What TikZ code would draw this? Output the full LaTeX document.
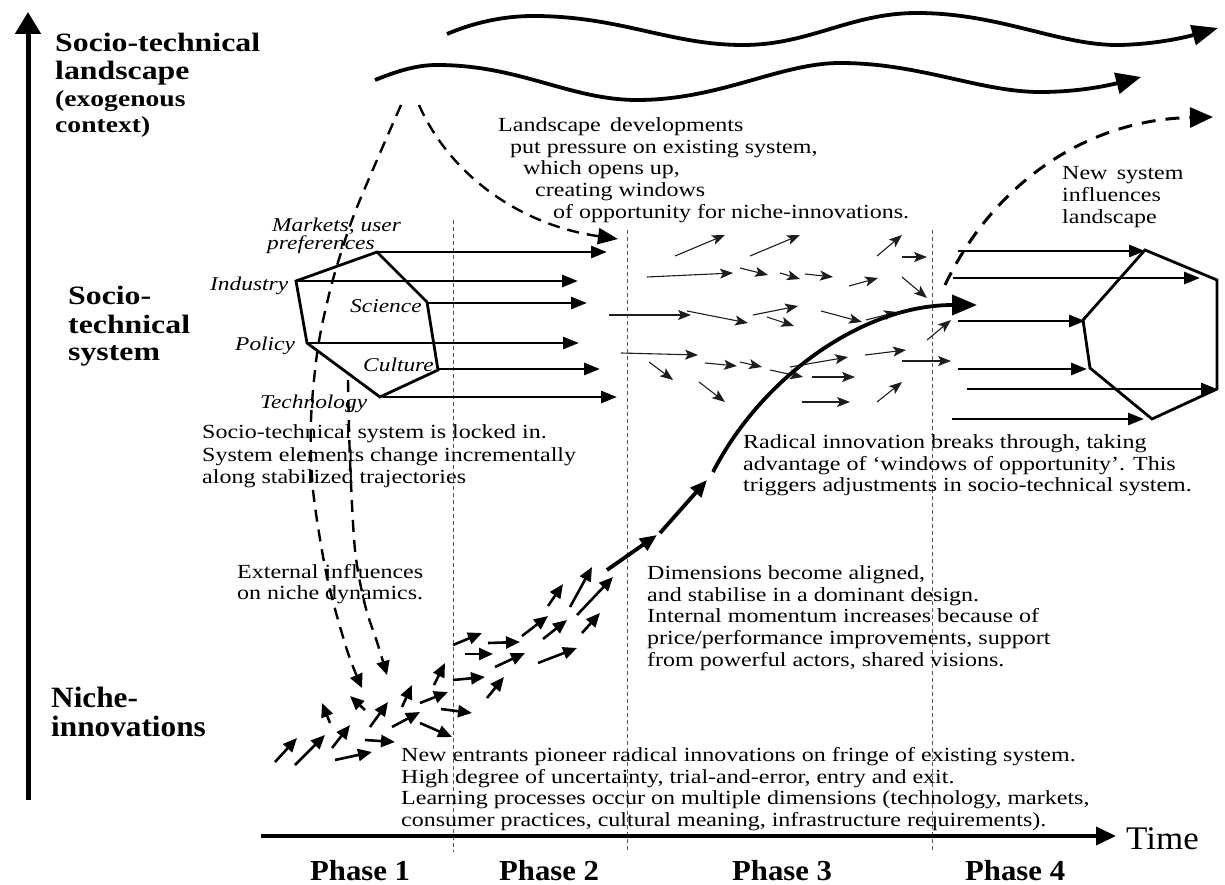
\documentclass[tikz,border=0pt]{standalone}
\usepackage{fontspec}
\setmainfont{Liberation Serif}
\newfontfamily\fw[FakeStretch=1.2]{Liberation Serif}
\newfontfamily\fn[FakeStretch=1.06]{Liberation Serif}
\usetikzlibrary{arrows.meta}
\definecolor{ink}{HTML}{1A1E22}
\definecolor{divgray}{HTML}{555555}
\tikzset{
  body/.style={anchor=base west, inner sep=0pt, font=\fw\fontsize{20}{22}\selectfont},
  lab/.style={anchor=base west, inner sep=0pt, font=\fw\itshape\fontsize{19.5}{22}\selectfont},
  bigl/.style={anchor=base west, inner sep=0pt, font=\fw\bfseries\fontsize{26.5}{28}\selectfont},
  midl/.style={anchor=base west, inner sep=0pt, font=\fw\bfseries\fontsize{23}{26}\selectfont},
  nichel/.style={anchor=base west, inner sep=0pt, font=\fn\bfseries\fontsize{29.5}{30}\selectfont},
  phasel/.style={anchor=base west, inner sep=0pt, text depth=0pt, font=\fn\bfseries\fontsize{29}{30}\selectfont},
  sysarr/.style={line width=2.8pt, -{Triangle[length=16pt,width=12pt]}},
  thinarr/.style={ink, line width=1.1pt, -{Stealth[length=13pt,width=10pt,inset=3pt]}},
  nicarr/.style={line width=2.6pt, -{Triangle[length=14pt,width=12pt]}},
  dashA/.style={line width=2.4pt, dash pattern=on 12pt off 8pt},
  divline/.style={divgray, line width=0.8pt, dash pattern=on 4pt off 3pt},
  wave/.style={line width=3.8pt},
}
\begin{document}
\begin{tikzpicture}[x=1pt,y=-1pt]
\useasboundingbox (0,0) rectangle (1225,885);

% phase dividers
\draw[divline] (453,220) -- (453,852);
\draw[divline] (627,230) -- (627,852);
\draw[divline] (932,230) -- (932,852);

% axes
\draw[line width=5pt,-{Triangle[length=22pt,width=25pt]}] (28,800) -- (28,12);
\node[anchor=base west, inner sep=0pt, font=\fn\fontsize{33}{34}\selectfont] (time) at (1126,849) {Time};
\draw[line width=3.8pt,-{Triangle[length=20pt,width=18pt]}] (261,836) -- (1116,836);

% left labels
\node[bigl] (l1) at (55,52) {Socio-technical};
\node[bigl] (l2) at (55,80) {landscape};
\node[midl] (l3) at (55,107) {(exogenous};
\node[midl] (l4) at (55,133) {context)};
\node[bigl] (s1) at (68,304) {Socio-};
\node[bigl] (s2) at (68,333) {technical};
\node[bigl] (s3) at (68,360) {system};
\node[nichel] (n1) at (51,707) {Niche-};
\node[nichel] (n2) at (51,736) {innovations};

% phase labels
\node[phasel] (p1) at (310,880) {Phase 1};
\node[phasel] (p2) at (499,880) {Phase 2};
\node[phasel] (p3) at (732,880) {Phase 3};
\node[phasel] (p4) at (965,880) {Phase 4};

% landscape waves
\draw[wave,-{Triangle[length=26pt,width=20pt]}] (447,34) .. controls (480,20) and (510,16) .. (533,16)
  .. controls (620,16) and (670,45) .. (743,45) .. controls (810,45) and (850,13) .. (917,13)
  .. controls (1000,13) and (1060,46) .. (1120,45) .. controls (1160,44) and (1190,36) .. (1218,28);
\draw[wave,-{Triangle[length=25pt,width=21pt]}] (375,80) .. controls (395,72) and (415,65) .. (437,65)
  .. controls (520,65) and (570,100) .. (637,100) .. controls (720,100) and (780,63) .. (840,63)
  .. controls (920,63) and (980,92) .. (1040,92) .. controls (1080,92) and (1110,85) .. (1141,77);

% dashed influences
\draw[dashA,-{Triangle[length=20pt,width=16pt]}] (419,105) .. controls (450,175) and (520,225) .. (618,239);
\draw[dashA,-{Triangle[length=14pt,width=13pt]}] plot[smooth] coordinates {(401,105) (377,160) (352,220) (332,283) (318,347) (311,420) (313,490) (327,577) (347,650) (362,688)};
\draw[dashA,-{Triangle[length=14pt,width=13pt]}] plot[smooth] coordinates {(348,380) (350,460) (355,550) (365,605) (378,645) (387,675)};
\draw[line width=3pt, dash pattern=on 14pt off 10pt,-{Triangle[length=23pt,width=20pt]}] (945,285) .. controls (990,190) and (1080,120) .. (1213,117);

% left hexagon
\draw[line width=2.8pt, line join=miter] (296,281) -- (377,252) -- (427,302) -- (438,370) -- (380,397) -- (307,343) -- cycle;
\draw[sysarr] (377,252) -- (607,252);
\draw[sysarr] (296,281) -- (578,281);
\draw[sysarr] (427,303) -- (587,303);
\draw[sysarr] (307,343) -- (579,343);
\draw[sysarr] (438,369) -- (600,369);
\draw[sysarr] (383,397) -- (617,397);
\node[lab] (m1) at (272,232) {Markets, user};
\node[lab] (m2) at (267,250) {preferences};
\node[lab] (m3) at (210,290) {Industry};
\node[lab] (m4) at (350,312) {Science};
\node[lab] (m5) at (235,350) {Policy};
\node[lab] (m6) at (363,371) {Culture};
\node[lab] (m7) at (260,408) {Technology};

% right hexagon
\draw[line width=2.8pt, line join=miter] (1145,250) -- (1217,280) -- (1217,389) -- (1152,419) -- (1090,368) -- (1083,320) -- cycle;
\draw[sysarr] (958,251) -- (1145,251);
\draw[sysarr] (953,278) -- (1200,278);
\draw[sysarr] (958,321) -- (1085,321);
\draw[sysarr] (958,369) -- (1087,369);
\draw[sysarr] (967,389) -- (1217,389);
\draw[sysarr] (952,419) -- (1144,419);

% thin arrows (system reconfiguration)
\foreach \a/\b/\c/\d in {675/256/725/235, 750/256/800/235, 877/256/902/235, 902/257/927/257,
  647/277/733/273, 740/268/768/275, 780/273/800/279, 805/274/833/277, 849/286/878/278, 902/277/927/298,
  609/315/691/315, 687/311/748/323, 753/315/798/306, 767/317/794/326, 821/311/862/322, 866/320/897/312,
  621/353/698/355, 649/362/673/380, 705/363/737/366, 740/362/762/367, 770/370/803/377, 790/367/848/357,
  865/355/906/350, 902/361/951/361, 699/382/725/402, 812/377/855/377, 802/402/850/402, 877/402/902/382,
  927/340/951/320}
  \draw[thinarr] (\a,\b) -- (\c,\d);

% niche arrows
\foreach \a/\b/\c/\d in {275/762/297/738, 295/765/325/735, 332/748/350/725, 335/760/372/752, 365/740/395/742,
  330/723/322/703, 365/710/350/696, 370/727/388/702, 392/727/420/712, 402/707/412/685, 420/723/452/737,
  420/703/448/692, 434/685/445/663, 441/709/472/713, 453/680/485/677, 453/645/482/633, 465/654/493/654,
  487/698/504/677, 488/643/520/642, 495/667/525/653, 522/636/548/616, 538/663/577/648, 543/639/567/620,
  548/606/563/584, 570/607/592/567, 577/615/613/577, 582/633/600/613}
  \draw[nicarr] (\a,\b) -- (\c,\d);

% breakthrough curve
\draw[line width=3.8pt,-{Triangle[length=17pt,width=14pt]}] (607,570) -- (657,535);
\draw[line width=3.8pt,-{Triangle[length=17pt,width=14pt]}] (660,533) -- (707,480);
\draw[line width=3.8pt,-{Triangle[length=25pt,width=20pt]}] (713,472) .. controls (760,380) and (860,305) .. (977,305);

% texts
\node[body] (a1) at (498,132) {Landscape\, developments};
\node[body] (a2) at (510,154) {put pressure on existing system,};
\node[body] (a3) at (523,175) {which opens up,};
\node[body] (a4) at (535,197) {creating windows};
\node[body] (a5) at (553,219) {of opportunity for niche-innovations.};

\node[body] (b1) at (1062,180) {New\, system};
\node[body] (b2) at (1062,202) {influences};
\node[body] (b3) at (1062,224) {landscape};

\node[body] (c1) at (202,438) {Socio-technical system is locked in.};
\node[body] (c2) at (202,461) {System elements change incrementally};
\node[body] (c3) at (202,483) {along stabilized trajectories};

\node[body] (d1) at (743,448) {Radical innovation breaks through, taking};
\node[body] (d2) at (743,470) {advantage of ‘windows of opportunity’. This};
\node[body] (d3) at (743,491) {triggers adjustments in socio-technical system.};

\node[body] (e1) at (237,578) {External influences};
\node[body] (e2) at (237,599) {on niche dynamics.};

\node[body] (f1) at (647,579) {Dimensions become aligned,};
\node[body] (f2) at (647,601) {and stabilise in a dominant design.};
\node[body] (f3) at (647,622) {Internal momentum increases because of};
\node[body] (f4) at (647,644) {price/performance improvements, support};
\node[body] (f5) at (647,666) {from powerful actors, shared visions.};

\node[body] (g1) at (401,761) {New entrants pioneer radical innovations on fringe of existing system.};
\node[body] (g2) at (401,783) {High degree of uncertainty, trial-and-error, entry and exit.};
\node[body] (g3) at (401,804) {Learning processes occur on multiple dimensions (technology, markets,};
\node[body] (g4) at (401,826) {consumer practices, cultural meaning, infrastructure requirements).};
\end{tikzpicture}
\end{document}
